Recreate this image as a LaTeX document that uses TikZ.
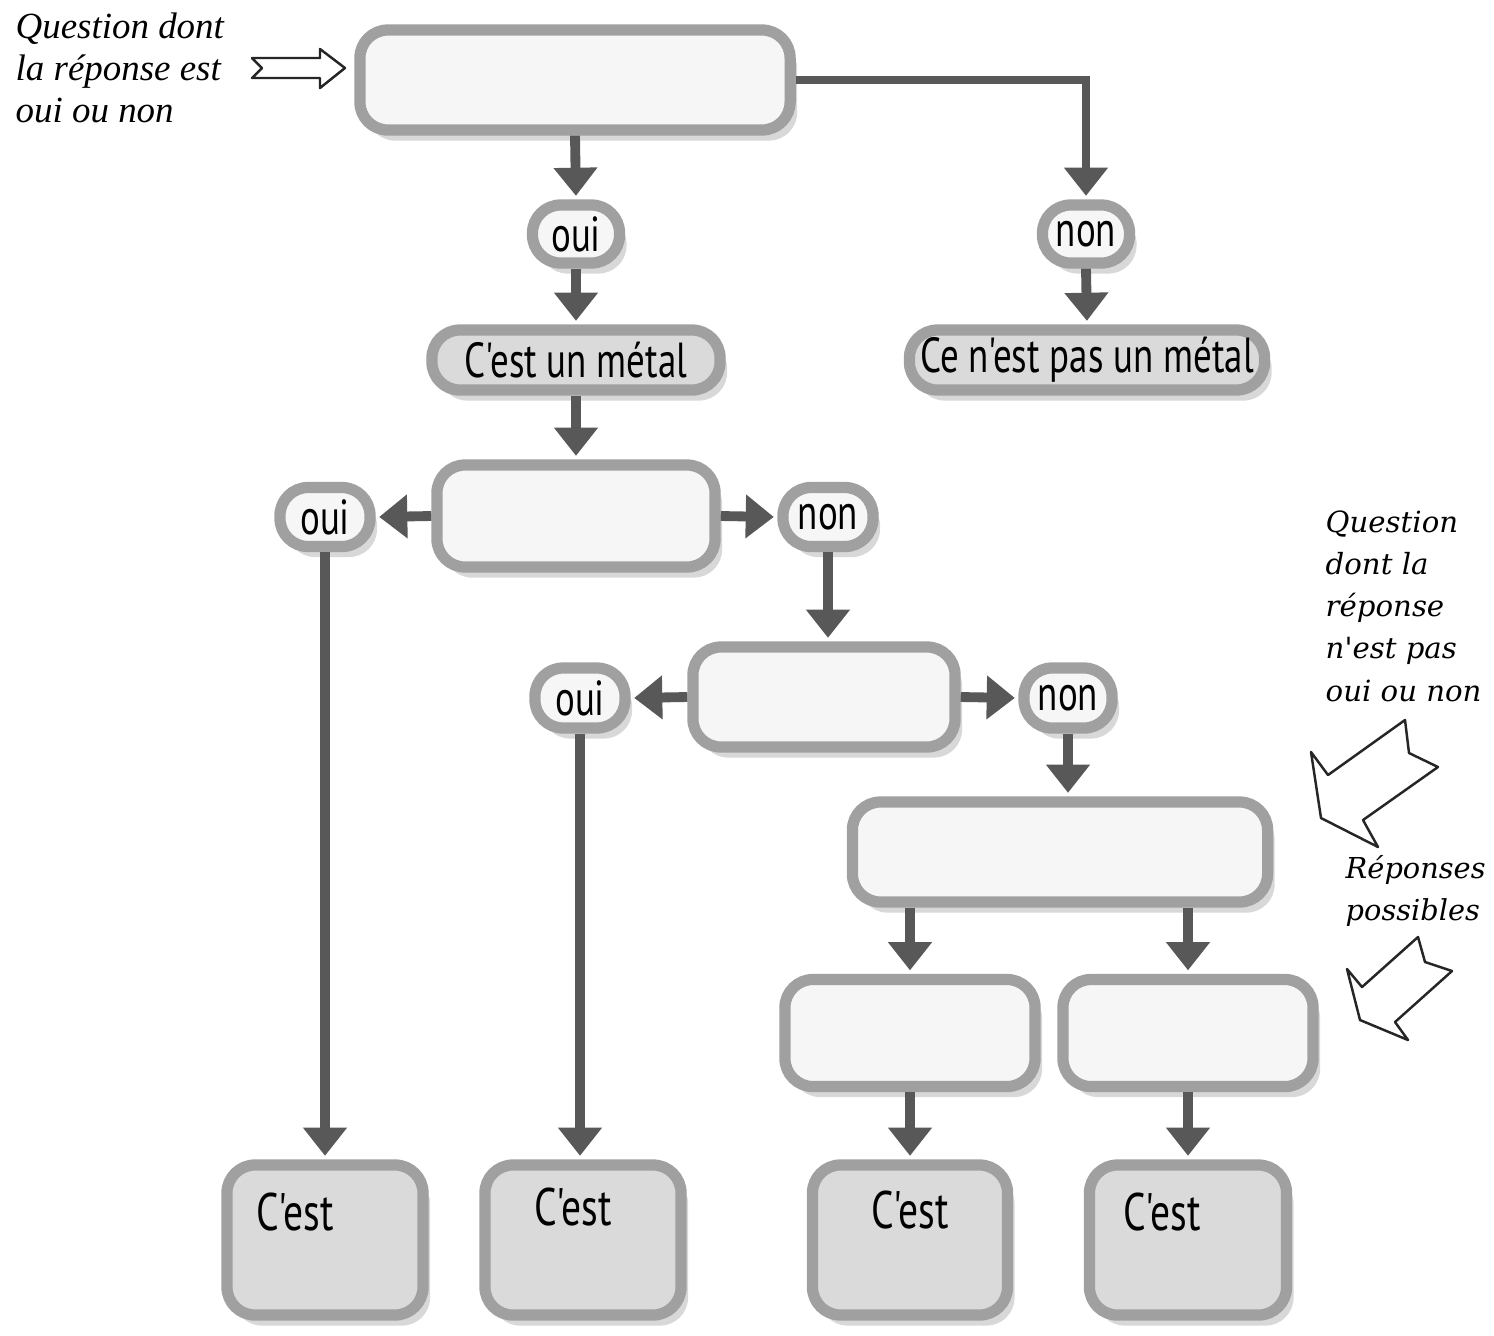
\documentclass[tikz,border=0pt]{standalone}
\usepackage{fontspec}
\usetikzlibrary{arrows.meta,shadows}
\newfontfamily\labelfont[FakeStretch=0.75]{PT Sans}
\newfontfamily\leftnote{Liberation Serif}
\newfontfamily\rightnote{DejaVu Serif}
\definecolor{flowgray}{RGB}{88,88,88}
\definecolor{rimgray}{RGB}{160,160,160}
\definecolor{paleface}{RGB}{246,246,246}
\definecolor{darkface}{RGB}{218,218,218}
\tikzset{
	qbox/.style={rounded corners=8pt,draw=rimgray,line width=3.2pt,fill=paleface,inner sep=0pt,
		drop shadow={shadow xshift=2pt,shadow yshift=-3pt,fill=gray!60,opacity=.5}},
	ansbox/.style={qbox,font=\labelfont\fontsize{14}{16}\selectfont},
	factbox/.style={qbox,fill=darkface,font=\labelfont\fontsize{14}{16}\selectfont},
	flow/.style={draw=flowgray,line width=2.8pt,-{Triangle[width=12pt,length=8pt]},shorten >=1pt},
	hollow/.style={draw=black!85,line width=0.7pt,fill=white,line join=round}
}
\begin{document}
\begin{tikzpicture}[x=0.01cm,y=-0.01cm]
	\useasboundingbox[fill=white](0,0)rectangle(1494,1335);
	\node[qbox,minimum width=4.30cm,minimum height=1.00cm](q1)at(575,80){};
	\node[ansbox,minimum width=0.87cm,minimum height=0.58cm](oui1)at(576,234){oui};
	\node[ansbox,minimum width=0.87cm,minimum height=0.58cm](non1)at(1086,234){non};
	\node[factbox,minimum width=2.88cm,minimum height=0.60cm](metal)at(576,360){C'est un métal};
	\node[factbox,minimum width=3.55cm,minimum height=0.60cm](nonmetal)at(1087,360){Ce n'est pas un métal};
	\node[qbox,minimum width=2.78cm,minimum height=1.02cm](q2)at(576,516){};
	\node[ansbox,minimum width=0.90cm,minimum height=0.59cm](oui2)at(325,517){oui};
	\node[ansbox,minimum width=0.90cm,minimum height=0.59cm](non2)at(828,517){non};
	\node[qbox,minimum width=2.62cm,minimum height=1.00cm](q3)at(824,697){};
	\node[ansbox,minimum width=0.90cm,minimum height=0.60cm](oui3)at(580,698){oui};
	\node[ansbox,minimum width=0.88cm,minimum height=0.60cm](non3)at(1068,698){non};
	\node[qbox,minimum width=4.15cm,minimum height=1.00cm](q4)at(1060,852){};
	\node[qbox,minimum width=2.50cm,minimum height=1.07cm](r1)at(910,1033){};
	\node[qbox,minimum width=2.50cm,minimum height=1.07cm](r2)at(1188,1033){};
	\node[factbox,minimum width=1.96cm,minimum height=1.50cm](c1)at(325,1240){};
	\node[factbox,minimum width=1.96cm,minimum height=1.50cm](c2)at(583,1240){};
	\node[factbox,minimum width=1.95cm,minimum height=1.50cm](c3)at(910,1240){};
	\node[factbox,minimum width=1.97cm,minimum height=1.50cm](c4)at(1188,1240){};
	\node[font=\labelfont\fontsize{15}{17}\selectfont](c1t)at(295,1212){C'est};
	\node[font=\labelfont\fontsize{15}{17}\selectfont](c2t)at(573,1207){C'est};
	\node[font=\labelfont\fontsize{15}{17}\selectfont](c3t)at(910,1210){C'est};
	\node[font=\labelfont\fontsize{15}{17}\selectfont](c4t)at(1162,1212){C'est};
	\draw[flow](q1.south)--(oui1.north);
	\draw[flow](oui1.south)--(metal.north);
	\draw[flow,line width=2.3pt](q1.east)-|(non1.north);
	\draw[flow](non1.south)--(nonmetal.north);
	\draw[flow](metal.south)--(q2.north);
	\draw[flow](q2.west)--(oui2.east);
	\draw[flow](q2.east)--(non2.west);
	\draw[flow](oui2.south)--(oui2.south|-c1.north);
	\draw[flow](non2.south)--(non2.south|-q3.north);
	\draw[flow](q3.west)--(oui3.east);
	\draw[flow](q3.east)--(non3.west);
	\draw[flow](oui3.south)--(oui3.south|-c2.north);
	\draw[flow](non3.south)--(non3.south|-q4.north);
	\draw[flow](r1.north|-q4.south)--(r1.north);
	\draw[flow](r2.north|-q4.south)--(r2.north);
	\draw[flow](r1.south)--(c3.north);
	\draw[flow](r2.south)--(c4.north);
	\node[anchor=north west,align=left,inner sep=0pt,font=\leftnote\itshape\fontsize{10.5}{12}\selectfont](noteyn)at(15,12){Question dont\\la réponse est\\oui ou non};
	\node[anchor=north west,align=left,inner sep=0pt,font=\rightnote\itshape\fontsize{8.3}{12}\selectfont](noteopen)at(1325,510){Question\\dont la\\réponse\\n'est pas\\oui ou non};
	\node[anchor=north west,align=left,inner sep=0pt,font=\rightnote\itshape\fontsize{8.2}{12}\selectfont](notereps)at(1345,855){Réponses\\possibles};
	\draw[hollow](252,58)--(320,58)--(320,49)--(345,68)--(320,88)--(320,78)--(252,78)--(262,68)--cycle;
	\draw[hollow](1405,720)--(1409,753)--(1438,767)--(1363,820)--(1378,847)--(1321,818)--(1311,752)--(1328,775)--cycle;
	\draw[hollow](1418,937)--(1425,962)--(1452,971)--(1395,1022)--(1408,1040)--(1360,1020)--(1347,969)--(1362,987)--cycle;
\end{tikzpicture}
\end{document}
